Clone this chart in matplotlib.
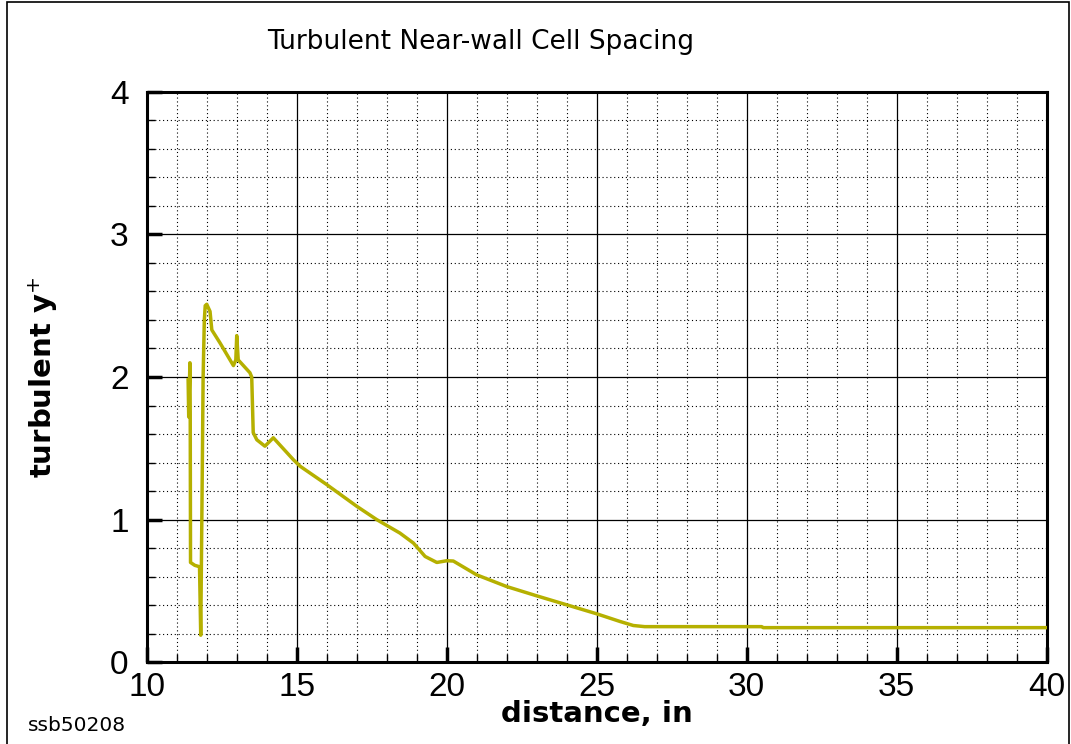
import numpy as np
import matplotlib.pyplot as plt
from matplotlib.ticker import MultipleLocator
from matplotlib.patches import Rectangle

# Data
distance = [11.38, 11.40, 11.42, 11.44, 11.45, 11.46, 11.60, 11.76, 11.80,
            11.84, 11.88, 11.92, 11.95, 12.00, 12.11, 12.17, 12.44, 12.89,
            12.97, 13.00, 13.05, 13.44, 13.50, 13.55, 13.67, 13.94, 14.22,
            14.89, 15.11, 16.00, 17.00, 17.67, 18.44, 18.89, 19.28, 19.67,
            20.00, 20.22, 21.00, 22.00, 23.00, 24.00, 25.00, 25.78, 26.22,
            26.60, 28.40, 30.50, 30.55, 35.00, 40.00]
yplus = [1.98, 1.72, 1.92, 2.10, 1.75, 0.70, 0.68, 0.67, 0.19,
         1.07, 2.00, 2.40, 2.50, 2.51, 2.46, 2.33, 2.24, 2.08,
         2.12, 2.29, 2.12, 2.03, 2.00, 1.61, 1.56, 1.515, 1.574,
         1.42, 1.375, 1.246, 1.094, 1.00, 0.906, 0.836, 0.742, 0.70,
         0.712, 0.71, 0.613, 0.531, 0.466, 0.403, 0.34, 0.286, 0.258,
         0.25, 0.25, 0.25, 0.243, 0.243, 0.243]

plt.rcParams['font.family'] = ['Liberation Sans', 'DejaVu Sans']

fig = plt.figure(figsize=(10.71, 7.44), dpi=100)
ax = fig.add_axes([0.137, 0.1098, 0.8403, 0.7669])

ax.plot(distance, yplus, color='#b5b000', linewidth=2.5, zorder=3)

ax.set_xlim(10, 40)
ax.set_ylim(0, 4)
ax.xaxis.set_major_locator(MultipleLocator(5))
ax.xaxis.set_minor_locator(MultipleLocator(1))
ax.yaxis.set_major_locator(MultipleLocator(1))
ax.yaxis.set_minor_locator(MultipleLocator(0.2))

ax.grid(which='major', color='black', linewidth=0.9, linestyle='-')
ax.grid(which='minor', color='black', linewidth=0.8, linestyle=(0, (1, 2.5)))
ax.set_axisbelow(True)

ax.tick_params(which='major', direction='in', length=11, width=2.5,
               labelsize=24)
ax.tick_params(axis='x', which='major', pad=7)
ax.tick_params(axis='y', which='major', pad=13)
ax.tick_params(which='minor', direction='in', length=6, width=1)
for s in ax.spines.values():
    s.set_linewidth(2.2)

ax.set_xlabel('distance, in', family='DejaVu Sans', fontsize=21,
              fontweight='bold', labelpad=-2)
ax.set_ylabel('turbulent y$^{+}$', family='DejaVu Sans', fontsize=21,
              fontweight='bold', labelpad=36)

fig.text(0.449, 0.9435, 'Turbulent Near-wall Cell Spacing',
         family='DejaVu Sans', fontsize=19, ha='center', va='center')
fig.text(0.026, 0.012, 'ssb50208', family='DejaVu Sans', fontsize=14.5,
         ha='left', va='bottom')

fig.patches.append(Rectangle((0.0065, -0.01), 0.992, 1.007,
                             transform=fig.transFigure, fill=False,
                             edgecolor='black', linewidth=1.2))

fig.savefig('out.png', dpi=100)
